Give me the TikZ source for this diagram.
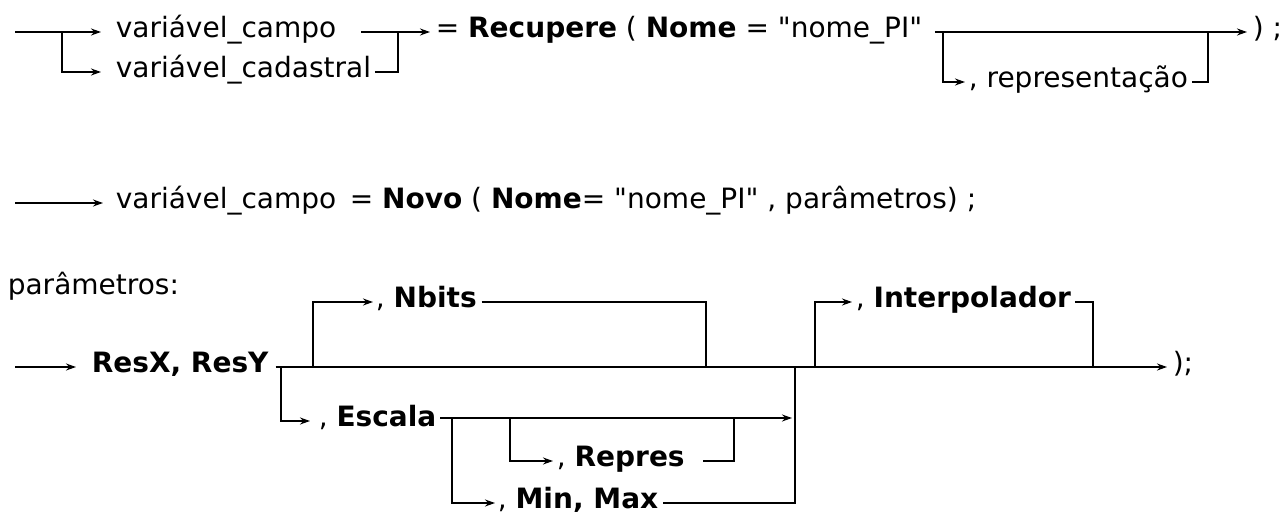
\documentclass[tikz,border=0pt]{standalone}
\usepackage{fontspec}
\setmainfont{DejaVu Sans}
\usetikzlibrary{arrows.meta}
\newcommand{\aspas}{\XeTeXglyph\XeTeXcharglyph"22\relax}
\begin{document}
\begin{tikzpicture}[x=0.5pt,y=-0.5pt,line width=0.8pt,font=\fontsize{14}{17}\selectfont,
    txt/.style={anchor=mid west,inner sep=0pt},
    arr/.style={-{Stealth[length=5pt,width=3.5pt]}}]
        \useasboundingbox (0,0) rectangle (1283,513);
        %% Recupere
        \coordinate (r1start) at (15,32);
        \coordinate (r1split) at (62,32);
        \node[txt] (campoA) at (115,32) {variável\_campo};
        \node[txt] (cadastral) at (115,72) {variável\_cadastral};
        \coordinate (r1join) at (398,32);
        \node[txt] (recupere) at (435,32) {= \textbf{Recupere} ( \textbf{Nome} = \aspas nome\_PI\aspas};
        \coordinate (r1opt) at (943,32);
        \node[txt] (repr) at (968,82) {, representação};
        \coordinate (r1back) at (1208,32);
        \node[txt] (fimA) at (1252,32) {) ;};
        \draw[arr] (r1start) -- ([xshift=-7pt]campoA.mid west);
        \draw[arr] (r1split) |- ([xshift=-7pt]cadastral.mid west);
        \draw ([xshift=12pt]campoA.mid east) -- (r1join);
        \draw ([xshift=1.5pt]cadastral.mid east) -| (r1join);
        \draw[arr] (r1join) -- ([xshift=-2.5pt]recupere.mid west);
        \draw[arr] ([xshift=6pt]recupere.mid east) -- ([xshift=-2.5pt]fimA.mid west);
        \draw[arr] (r1opt) |- ([xshift=-1.5pt]repr.mid west);
        \draw ([xshift=1.5pt]repr.mid east) -| (r1back);
        %% Novo
        \coordinate (r2start) at (15,203);
        \node[txt] (campoB) at (115,203) {variável\_campo};
        \node[txt] (novo) at (349,203) {= \textbf{Novo} ( \textbf{Nome}= \aspas nome\_PI\aspas{} , parâmetros) ;};
        \draw[arr] (r2start) -- ([xshift=-6pt]campoB.mid west);
        %% parametros
        \node[txt] (paramlbl) at (7,289) {parâmetros:};
        \coordinate (r3start) at (15,367);
        \node[txt] (resxy) at (91,367) {\textbf{ResX, ResY}};
        \coordinate (escSplit) at (281,367);
        \coordinate (nbitsSplit) at (313,367);
        \node[txt] (nbits) at (375,302) {, \textbf{Nbits}};
        \coordinate (nbitsJoin) at (706,367);
        \node[txt] (escala) at (318,421) {, \textbf{Escala}};
        \coordinate (escOut) at (440,418);
        \coordinate (mmSplit) at (452,418);
        \coordinate (repSplit) at (510,418);
        \coordinate (repJoin) at (734,418);
        \coordinate (escJoin) at (795,418);
        \node[txt] (repres) at (556,461) {, \textbf{Repres}};
        \node[txt] (minmax) at (497,503) {, \textbf{Min, Max}};
        \coordinate (mainJoin) at (795,367);
        \coordinate (intSplit) at (815,367);
        \node[txt] (interp) at (855,302) {, \textbf{Interpolador}};
        \coordinate (intJoin) at (1093,367);
        \node[txt] (fimC) at (1172,367) {);};
        \draw[arr] (r3start) -- ([xshift=-7.5pt]resxy.mid west);
        \draw[arr] ([xshift=3pt]resxy.mid east) -- ([xshift=-2.5pt]fimC.mid west);
        \draw[arr] (nbitsSplit) |- ([xshift=-1pt]nbits.mid west);
        \draw ([xshift=2pt]nbits.mid east) -| (nbitsJoin);
        \draw[arr] (escSplit) |- ([xshift=-4pt]escala.mid west);
        \draw[arr] (escOut) -- ([xshift=-1.5pt]escJoin);
        \draw[arr] (repSplit) |- ([xshift=-1.5pt]repres.mid west);
        \draw ([xshift=9pt]repres.mid east) -| (repJoin);
        \draw[arr] (mmSplit) |- ([xshift=-1pt]minmax.mid west);
        \draw ([xshift=2pt]minmax.mid east) -| (mainJoin);
        \draw[arr] (intSplit) |- ([xshift=-1.5pt]interp.mid west);
        \draw ([xshift=1.5pt]interp.mid east) -| (intJoin);
\end{tikzpicture}
\end{document}
